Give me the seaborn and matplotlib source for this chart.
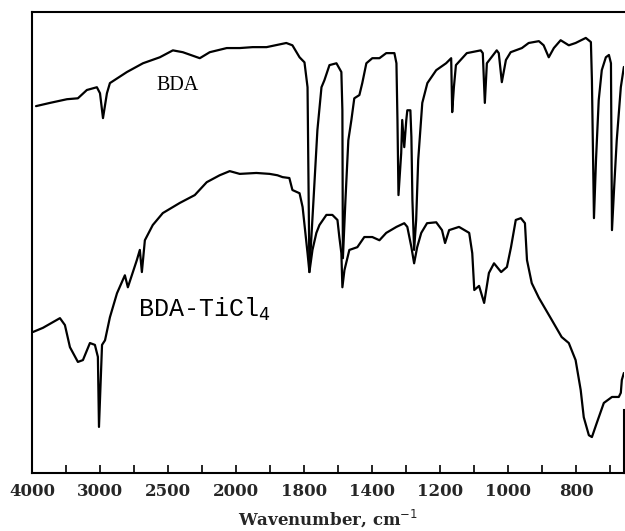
import numpy as np
import pandas as pd
import matplotlib
matplotlib.use("Agg")
import matplotlib.pyplot as plt
import seaborn as sns

# Espectro BDA (traço superior)
bda_wn = [3941, 3736, 3486, 3325, 3193, 3046, 3000, 2978, 2949, 2927, 2802, 2684, 2560, 2464,
          2391, 2266, 2193, 2068, 1989, 1951, 1910, 1852, 1834, 1813, 1797, 1779, 1768, 1744,
          1721, 1697, 1680, 1650, 1609, 1580, 1574, 1571, 1556, 1539, 1521, 1504, 1474, 1457,
          1433, 1399, 1378, 1358, 1334, 1328, 1325, 1322, 1314, 1311, 1305, 1299, 1296, 1287,
          1284, 1281, 1276, 1270, 1264, 1252, 1237, 1211, 1182, 1167, 1164, 1159, 1153, 1121,
          1080, 1074, 1068, 1062, 1033, 1027, 1018, 1006, 992, 959, 939, 909, 895, 880, 865,
          845, 821, 801, 771, 756, 753, 747, 741, 733, 724, 712, 703, 697, 694, 688, 680, 668, 659]
bda_t = [79.6, 80.3, 81.1, 81.3, 83.1, 83.7, 82.4, 77.0, 82.4, 84.6, 87.0, 88.9, 90.2, 91.7,
         91.3, 90.0, 91.3, 92.2, 92.2, 92.4, 92.4, 93.3, 92.8, 90.2, 89.1, 83.7, 43.6, 59.2,
         74.4, 83.7, 85.2, 88.5, 88.9, 87.0, 78.7, 46.6, 59.2, 72.2, 76.6, 81.3, 82.0, 84.6,
         88.9, 90.0, 90.0, 91.1, 91.1, 88.9, 76.6, 60.3, 69.4, 76.6, 70.7, 76.6, 78.7, 78.7,
         72.9, 59.2, 48.4, 54.9, 67.9, 80.3, 84.6, 87.4, 88.9, 90.0, 78.3, 83.7, 88.5, 91.1,
         91.7, 91.1, 80.3, 88.9, 91.7, 91.1, 84.8, 89.6, 91.3, 92.2, 93.3, 93.7, 92.8, 90.2, 92.2,
         93.9, 92.8, 93.3, 94.4, 93.5, 85.2, 55.3, 67.9, 80.9, 87.4, 90.2, 90.7, 88.9, 52.7, 61.4,
         72.2, 83.7, 88.1]

# Espectro BDA-TiCl4 (traço inferior)
ti_wn = [3985, 3839, 3589, 3516, 3442, 3325, 3251, 3148, 3075, 3031, 3015, 2985, 2963, 2927,
         2875, 2817, 2795, 2729, 2707, 2692, 2670, 2612, 2538, 2413, 2303, 2215, 2120, 2046,
         1989, 1940, 1901, 1878, 1863, 1843, 1834, 1813, 1804, 1779, 1768, 1750, 1727, 1709,
         1668, 1633, 1603, 1592, 1580, 1574, 1562, 1533, 1486, 1445, 1399, 1378, 1358, 1328,
         1305, 1296, 1284, 1276, 1267, 1255, 1238, 1211, 1194, 1185, 1173, 1144, 1114, 1105,
         1099, 1085, 1070, 1056, 1041, 1020, 1003, 991, 977, 962, 950, 944, 930, 909, 871,
         842, 821, 801, 786, 777, 762, 753, 739, 718, 694, 674, 668, 665, 659]
ti_t = [30.6, 31.5, 33.6, 32.1, 27.3, 24.1, 24.5, 28.2, 27.8, 25.2, 10.0, 27.8, 28.8, 33.8,
        39.0, 42.9, 40.3, 46.2, 48.4, 43.6, 50.5, 53.8, 56.4, 58.6, 60.3, 63.1, 64.6, 65.5,
        64.9, 65.1, 64.9, 64.6, 64.2, 64.0, 61.4, 60.7, 57.7, 47.7, 43.6, 48.4, 52.1, 53.8,
        56.0, 56.0, 54.9, 51.2, 47.7, 40.3, 44.0, 48.4, 49.0, 51.2, 51.2, 50.5, 52.1, 53.4,
        54.2, 53.4, 49.0, 45.5, 49.0, 52.1, 54.2, 54.4, 52.7, 49.9, 52.7, 53.4, 52.1, 47.7,
        39.7, 40.6, 36.9, 43.4, 45.5, 43.6, 44.7, 49.0, 54.9, 55.3, 54.2, 46.2, 41.2, 38.0, 33.2,
        29.5, 28.2, 24.5, 18.0, 12.1, 8.2, 7.8, 10.8, 15.2, 16.5, 16.5, 17.4, 20.2, 21.7]

# Eixo x não linear, como no gráfico original
eixo_wn = [400, 700, 800, 1000, 1200, 1400, 1800, 2000, 2500, 3000, 4000, 5000]
eixo_pos = [20, 17, 16, 14, 12, 10, 8, 6, 4, 2, 0, -2]
tick_wn = [4000, 3500, 3000, 2750, 2500, 2250, 2000, 1900, 1800, 1600,
           1400, 1300, 1200, 1100, 1000, 900, 800, 700]
tick_lbl = ['4000', '', '3000', '', '2500', '', '2000', '', '1800', '',
            '1400', '', '1200', '', '1000', '', '800', '']

# escala crescente: -posição
neg_pos = [-p for p in eixo_pos]


def para_pos(w):
    return np.interp(np.asarray(w, dtype=float), eixo_wn, neg_pos)


def para_wn(p):
    return np.interp(np.asarray(p, dtype=float), neg_pos, eixo_wn)


sns.set_style("white")

fig = plt.figure(figsize=(6.25, 5.31), dpi=100)
ax = fig.add_axes([0.0512, 0.1092, 0.947, 0.868])
ax.set_xscale('function', functions=(para_pos, para_wn))

sns.lineplot(x=bda_wn, y=bda_t, sort=False, estimator=None, color='black', linewidth=1.6, ax=ax)
sns.lineplot(x=ti_wn, y=ti_t, sort=False, estimator=None, color='black', linewidth=1.6, ax=ax)

ax.set_xlim(4000, 659)
ax.set_ylim(0, 100)

ax.set_xticks(tick_wn)
ax.set_xticklabels(tick_lbl, fontfamily='DejaVu Serif', fontweight='bold', fontsize=12)
ax.xaxis.set_minor_locator(matplotlib.ticker.NullLocator())
ax.tick_params(axis='x', direction='in', length=6, width=1.2, pad=7, color='black', bottom=True)
ax.set_yticks([])

for lado in ['left', 'bottom', 'top', 'right']:
    ax.spines[lado].set_color('black')
    ax.spines[lado].set_linewidth(1.5)
ax.spines['right'].set_bounds(0, 13.7)

ax.set_xlabel('Wavenumber, cm$^{-1}$', fontfamily='DejaVu Serif', fontweight='bold',
              fontsize=12, labelpad=5)
ax.set_ylabel('')

ax.text(2582, 83.1, 'BDA', fontfamily='Liberation Serif', fontsize=14.5,
        ha='left', va='baseline', color='black')
ax.text(2721, 33.8, 'BDA-TiCl$_4$', fontfamily='Liberation Mono', fontsize=18,
        ha='left', va='baseline', color='black')

fig.savefig('out.png', dpi=100, facecolor='white')
